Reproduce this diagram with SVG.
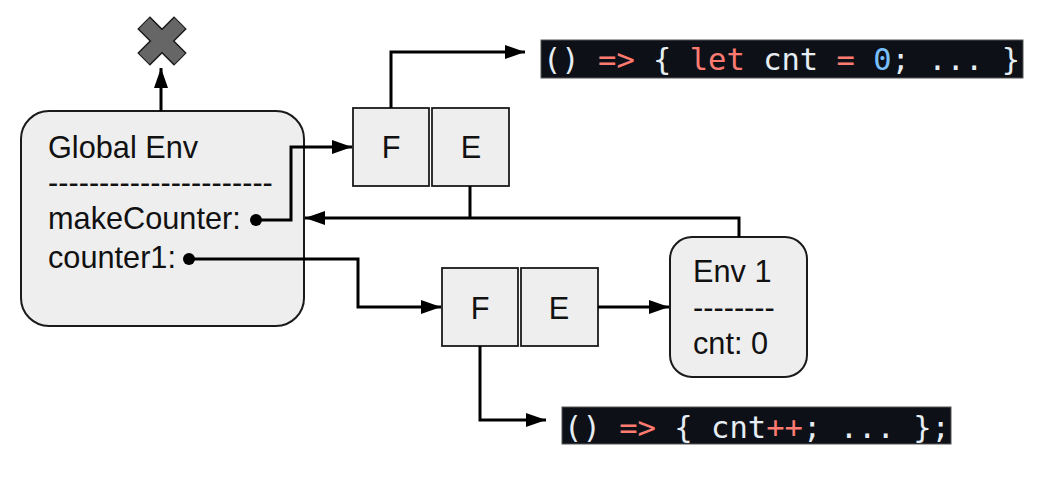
<svg xmlns="http://www.w3.org/2000/svg" width="1041" height="478" viewBox="0 0 1041 478">
<style>
.env{fill:#eeeeee;stroke:#1a1a1a;stroke-width:2}
.cell{fill:#eeeeee;stroke:#1a1a1a;stroke-width:1.8}
.t{font-family:"Liberation Sans",Arial,sans-serif;font-size:30.7px;fill:#111}
.c{fill:none;stroke:#000;stroke-width:3}
.code{font-family:"DejaVu Sans Mono","Liberation Mono",monospace;font-size:30px;fill:#e6edf3}
.kw{fill:#ff7b72}
.num{fill:#79c0ff}
</style>
<defs>
<marker id="ah" markerUnits="userSpaceOnUse" markerWidth="22" markerHeight="16" refX="20" refY="7" orient="auto">
<path d="M0,0 L20,7 L0,14 z" fill="#000"/>
</marker>
</defs>
<rect width="1041" height="478" fill="#ffffff"/>

<g id="x-mark">
<path d="M0,-26 L0,26 M-26,0 L26,0" transform="translate(162,41) rotate(45)" stroke="#1a1a1a" stroke-width="18" stroke-linecap="butt" fill="none"/>
<path d="M0,-25 L0,25 M-25,0 L25,0" transform="translate(162,41) rotate(45)" stroke="#666666" stroke-width="15" stroke-linecap="butt" fill="none"/>
</g>

<g id="global-env">
<rect class="env" x="21" y="111" width="283" height="215" rx="28" ry="28"/>
<text class="t" x="48" y="158">Global Env</text>
<text class="t" x="48" y="193">----------------------</text>
<text class="t" x="48" y="229">makeCounter:</text>
<text class="t" x="48" y="268">counter1:</text>
</g>

<g id="closure-make">
<rect class="cell" x="353" y="108" width="76" height="78"/>
<text class="t" x="391" y="158" text-anchor="middle">F</text>
<rect class="cell" x="432" y="108" width="77" height="78"/>
<text class="t" x="471" y="158" text-anchor="middle">E</text>
</g>

<g id="closure-counter">
<rect class="cell" x="442" y="268" width="76" height="78"/>
<text class="t" x="480" y="319" text-anchor="middle">F</text>
<rect class="cell" x="521" y="268" width="77" height="78"/>
<text class="t" x="559" y="319" text-anchor="middle">E</text>
</g>

<g id="env1">
<rect class="env" x="670" y="237" width="137" height="140" rx="22" ry="22"/>
<text class="t" x="693" y="282">Env 1</text>
<text class="t" x="693" y="318">--------</text>
<text class="t" x="693" y="354">cnt: 0</text>
</g>

<g id="code-make">
<rect x="541" y="40" width="482" height="38" fill="#0d1117" stroke="#555" stroke-width="1"/>
<text class="code" x="543" y="70" textLength="477" lengthAdjust="spacingAndGlyphs">() <tspan class="kw">=&gt;</tspan> { <tspan class="kw">let</tspan> cnt <tspan class="kw">=</tspan> <tspan class="num">0</tspan>; ... }</text>
</g>

<g id="code-counter">
<rect x="562" y="407" width="389" height="37" fill="#0d1117" stroke="#555" stroke-width="1"/>
<text class="code" x="564" y="438" textLength="386" lengthAdjust="spacingAndGlyphs">() <tspan class="kw">=&gt;</tspan> { cnt<tspan class="kw">++</tspan>; ... };</text>
</g>

<g id="connectors">
<path class="c" d="M161,111 V68" marker-end="url(#ah)"/>
<circle cx="256" cy="220" r="6" fill="#000"/>
<path class="c" d="M256,220 H291 V147 H352" marker-end="url(#ah)"/>
<path class="c" d="M391,108 V52 H525" marker-end="url(#ah)"/>
<path class="c" d="M470,186 V218"/>
<path class="c" d="M739,237 V218 H305" marker-end="url(#ah)"/>
<circle cx="189" cy="259" r="6" fill="#000"/>
<path class="c" d="M189,259 H358 V307 H441" marker-end="url(#ah)"/>
<path class="c" d="M598,307 H669" marker-end="url(#ah)"/>
<path class="c" d="M480,346 V420 H546" marker-end="url(#ah)"/>
</g>
</svg>
